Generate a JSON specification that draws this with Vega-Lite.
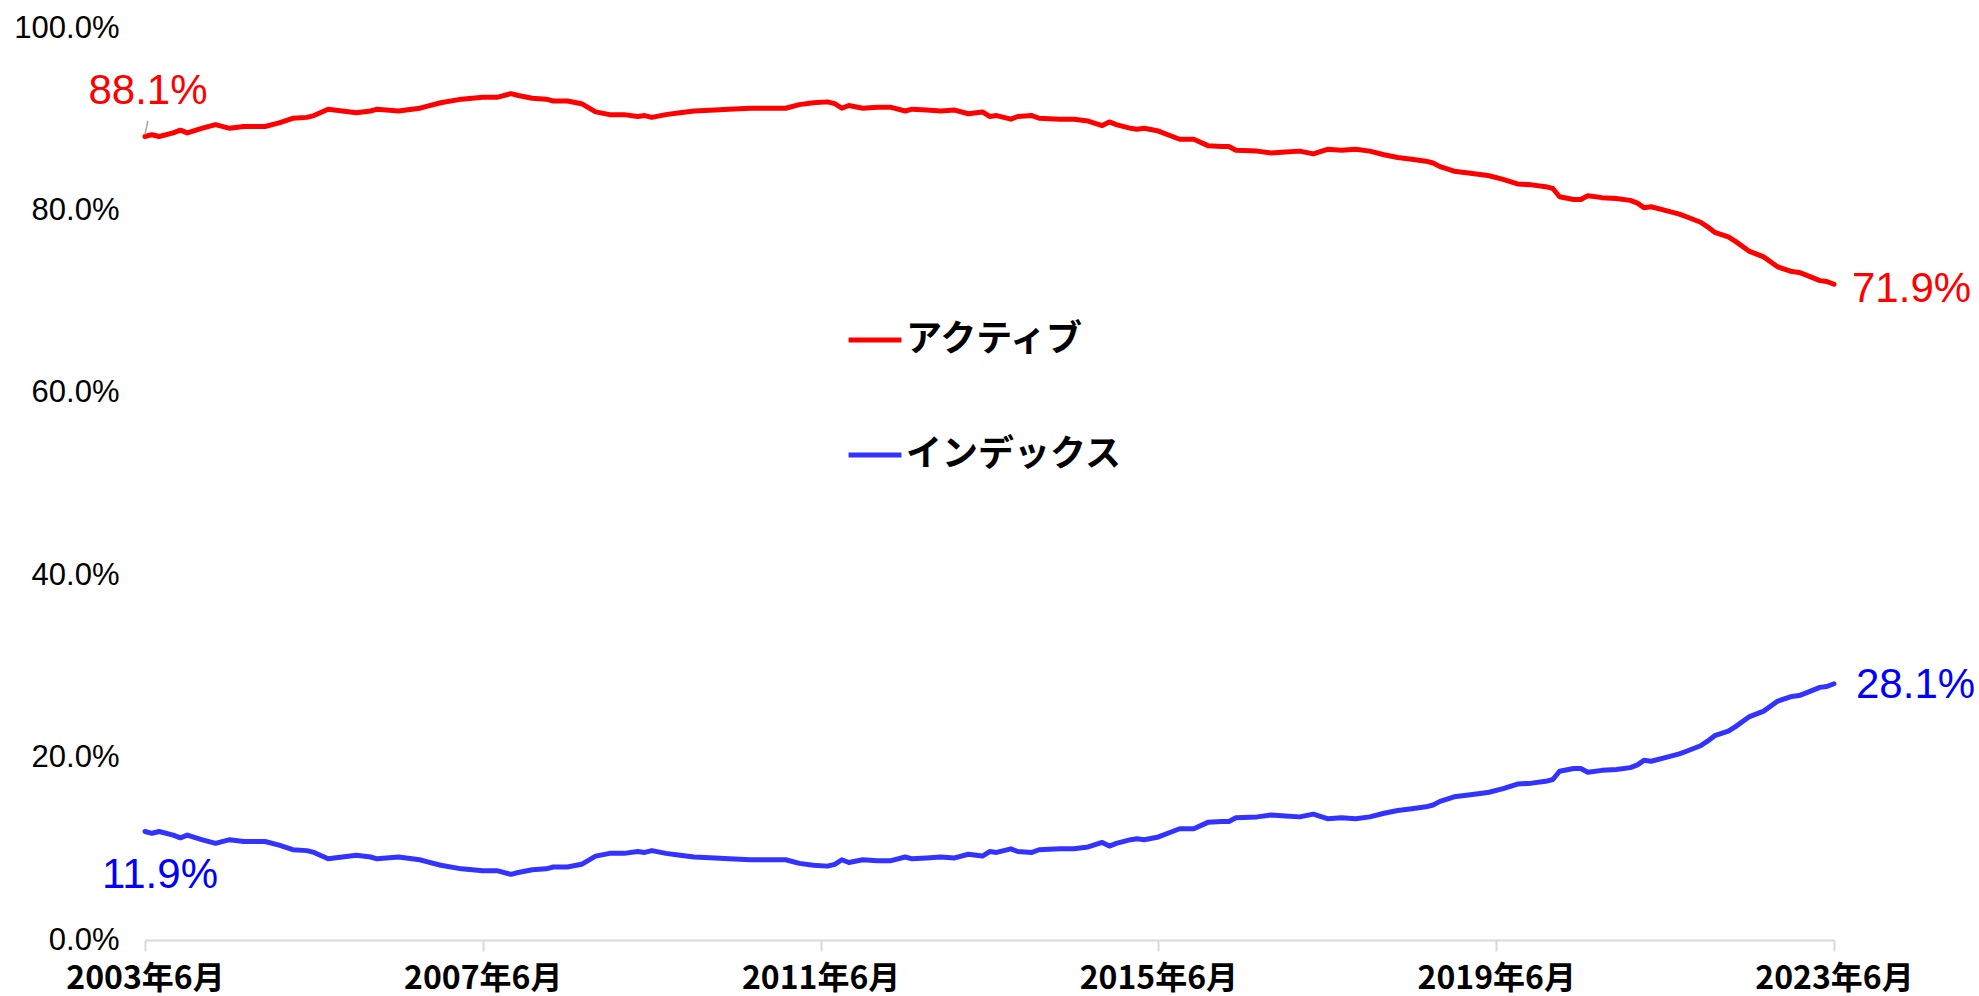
{
  "$schema": "https://vega.github.io/schema/vega-lite/v6.json",
  "autosize": {"type": "none"},
  "width": 1689,
  "height": 912,
  "padding": {"left": 145, "top": 28, "right": 145, "bottom": 56},
  "background": "#ffffff",
  "config": {"view": {"stroke": null}},
  "datasets": {
    "share": [
      {"d":"2003/06/01","アクティブ":88.1,"インデックス":11.9},
      {"d":"2003/07/01","アクティブ":88.3,"インデックス":11.7},
      {"d":"2003/08/01","アクティブ":88.1,"インデックス":11.9},
      {"d":"2003/10/01","アクティブ":88.5,"インデックス":11.5},
      {"d":"2003/11/01","アクティブ":88.8,"インデックス":11.2},
      {"d":"2003/12/01","アクティブ":88.5,"インデックス":11.5},
      {"d":"2004/02/01","アクティブ":89.0,"インデックス":11.0},
      {"d":"2004/04/01","アクティブ":89.4,"インデックス":10.6},
      {"d":"2004/06/01","アクティブ":89.0,"インデックス":11.0},
      {"d":"2004/08/01","アクティブ":89.2,"インデックス":10.8},
      {"d":"2004/11/01","アクティブ":89.2,"インデックス":10.8},
      {"d":"2005/01/01","アクティブ":89.6,"インデックス":10.4},
      {"d":"2005/03/01","アクティブ":90.1,"インデックス":9.9},
      {"d":"2005/05/01","アクティブ":90.2,"インデックス":9.8},
      {"d":"2005/06/01","アクティブ":90.4,"インデックス":9.6},
      {"d":"2005/08/01","アクティブ":91.1,"インデックス":8.9},
      {"d":"2005/10/01","アクティブ":90.9,"インデックス":9.1},
      {"d":"2005/12/01","アクティブ":90.7,"インデックス":9.3},
      {"d":"2006/02/01","アクティブ":90.9,"インデックス":9.1},
      {"d":"2006/03/01","アクティブ":91.1,"インデックス":8.9},
      {"d":"2006/06/01","アクティブ":90.9,"インデックス":9.1},
      {"d":"2006/09/01","アクティブ":91.2,"インデックス":8.8},
      {"d":"2006/10/01","アクティブ":91.4,"インデックス":8.6},
      {"d":"2006/12/01","アクティブ":91.8,"インデックス":8.2},
      {"d":"2007/03/01","アクティブ":92.2,"インデックス":7.8},
      {"d":"2007/06/01","アクティブ":92.4,"インデックス":7.6},
      {"d":"2007/08/01","アクティブ":92.4,"インデックス":7.6},
      {"d":"2007/10/01","アクティブ":92.8,"インデックス":7.2},
      {"d":"2007/11/01","アクティブ":92.6,"インデックス":7.4},
      {"d":"2008/01/01","アクティブ":92.3,"インデックス":7.7},
      {"d":"2008/03/01","アクティブ":92.2,"インデックス":7.8},
      {"d":"2008/04/01","アクティブ":92.0,"インデックス":8.0},
      {"d":"2008/06/01","アクティブ":92.0,"インデックス":8.0},
      {"d":"2008/08/01","アクティブ":91.7,"インデックス":8.3},
      {"d":"2008/10/01","アクティブ":90.8,"インデックス":9.2},
      {"d":"2008/12/01","アクティブ":90.5,"インデックス":9.5},
      {"d":"2009/02/01","アクティブ":90.5,"インデックス":9.5},
      {"d":"2009/04/01","アクティブ":90.3,"インデックス":9.7},
      {"d":"2009/05/01","アクティブ":90.4,"インデックス":9.6},
      {"d":"2009/06/01","アクティブ":90.2,"インデックス":9.8},
      {"d":"2009/08/01","アクティブ":90.5,"インデックス":9.5},
      {"d":"2009/10/01","アクティブ":90.7,"インデックス":9.3},
      {"d":"2009/12/01","アクティブ":90.9,"インデックス":9.1},
      {"d":"2010/03/01","アクティブ":91.0,"インデックス":9.0},
      {"d":"2010/05/01","アクティブ":91.1,"インデックス":8.9},
      {"d":"2010/08/01","アクティブ":91.2,"インデックス":8.8},
      {"d":"2010/11/01","アクティブ":91.2,"インデックス":8.8},
      {"d":"2011/01/01","アクティブ":91.2,"インデックス":8.8},
      {"d":"2011/03/01","アクティブ":91.6,"インデックス":8.4},
      {"d":"2011/05/01","アクティブ":91.8,"インデックス":8.2},
      {"d":"2011/07/01","アクティブ":91.9,"インデックス":8.1},
      {"d":"2011/08/01","アクティブ":91.7,"インデックス":8.3},
      {"d":"2011/09/01","アクティブ":91.2,"インデックス":8.8},
      {"d":"2011/10/01","アクティブ":91.5,"インデックス":8.5},
      {"d":"2011/12/01","アクティブ":91.2,"インデックス":8.8},
      {"d":"2012/02/01","アクティブ":91.3,"インデックス":8.7},
      {"d":"2012/04/01","アクティブ":91.3,"インデックス":8.7},
      {"d":"2012/06/01","アクティブ":90.9,"インデックス":9.1},
      {"d":"2012/07/01","アクティブ":91.1,"インデックス":8.9},
      {"d":"2012/09/01","アクティブ":91.0,"インデックス":9.0},
      {"d":"2012/11/01","アクティブ":90.9,"インデックス":9.1},
      {"d":"2013/01/01","アクティブ":91.0,"インデックス":9.0},
      {"d":"2013/03/01","アクティブ":90.6,"インデックス":9.4},
      {"d":"2013/05/01","アクティブ":90.8,"インデックス":9.2},
      {"d":"2013/06/01","アクティブ":90.3,"インデックス":9.7},
      {"d":"2013/07/01","アクティブ":90.4,"インデックス":9.6},
      {"d":"2013/09/01","アクティブ":90.0,"インデックス":10.0},
      {"d":"2013/10/01","アクティブ":90.3,"インデックス":9.7},
      {"d":"2013/12/01","アクティブ":90.4,"インデックス":9.6},
      {"d":"2014/01/01","アクティブ":90.1,"インデックス":9.9},
      {"d":"2014/04/01","アクティブ":90.0,"インデックス":10.0},
      {"d":"2014/06/01","アクティブ":90.0,"インデックス":10.0},
      {"d":"2014/08/01","アクティブ":89.8,"インデックス":10.2},
      {"d":"2014/10/01","アクティブ":89.3,"インデックス":10.7},
      {"d":"2014/11/01","アクティブ":89.7,"インデックス":10.3},
      {"d":"2014/12/01","アクティブ":89.4,"インデックス":10.6},
      {"d":"2015/02/01","アクティブ":89.0,"インデックス":11.0},
      {"d":"2015/03/01","アクティブ":88.9,"インデックス":11.1},
      {"d":"2015/04/01","アクティブ":89.0,"インデックス":11.0},
      {"d":"2015/06/01","アクティブ":88.7,"インデックス":11.3},
      {"d":"2015/08/01","アクティブ":88.1,"インデックス":11.9},
      {"d":"2015/09/01","アクティブ":87.8,"インデックス":12.2},
      {"d":"2015/11/01","アクティブ":87.8,"インデックス":12.2},
      {"d":"2016/01/01","アクティブ":87.1,"インデックス":12.9},
      {"d":"2016/03/01","アクティブ":87.0,"インデックス":13.0},
      {"d":"2016/04/01","アクティブ":87.0,"インデックス":13.0},
      {"d":"2016/05/01","アクティブ":86.6,"インデックス":13.4},
      {"d":"2016/08/01","アクティブ":86.5,"インデックス":13.5},
      {"d":"2016/10/01","アクティブ":86.3,"インデックス":13.7},
      {"d":"2016/12/01","アクティブ":86.4,"インデックス":13.6},
      {"d":"2017/02/01","アクティブ":86.5,"インデックス":13.5},
      {"d":"2017/04/01","アクティブ":86.2,"インデックス":13.8},
      {"d":"2017/06/01","アクティブ":86.7,"インデックス":13.3},
      {"d":"2017/08/01","アクティブ":86.6,"インデックス":13.4},
      {"d":"2017/10/01","アクティブ":86.7,"インデックス":13.3},
      {"d":"2017/12/01","アクティブ":86.5,"インデックス":13.5},
      {"d":"2018/02/01","アクティブ":86.1,"インデックス":13.9},
      {"d":"2018/04/01","アクティブ":85.8,"インデックス":14.2},
      {"d":"2018/06/01","アクティブ":85.6,"インデックス":14.4},
      {"d":"2018/08/01","アクティブ":85.4,"インデックス":14.6},
      {"d":"2018/09/01","アクティブ":85.2,"インデックス":14.8},
      {"d":"2018/10/01","アクティブ":84.8,"インデックス":15.2},
      {"d":"2018/12/01","アクティブ":84.3,"インデックス":15.7},
      {"d":"2019/02/01","アクティブ":84.1,"インデックス":15.9},
      {"d":"2019/04/01","アクティブ":83.9,"インデックス":16.1},
      {"d":"2019/05/01","アクティブ":83.8,"インデックス":16.2},
      {"d":"2019/07/01","アクティブ":83.4,"インデックス":16.6},
      {"d":"2019/09/01","アクティブ":82.9,"インデックス":17.1},
      {"d":"2019/11/01","アクティブ":82.8,"インデックス":17.2},
      {"d":"2020/01/01","アクティブ":82.6,"インデックス":17.4},
      {"d":"2020/02/01","アクティブ":82.4,"インデックス":17.6},
      {"d":"2020/03/01","アクティブ":81.5,"インデックス":18.5},
      {"d":"2020/05/01","アクティブ":81.2,"インデックス":18.8},
      {"d":"2020/06/01","アクティブ":81.2,"インデックス":18.8},
      {"d":"2020/07/01","アクティブ":81.6,"インデックス":18.4},
      {"d":"2020/09/01","アクティブ":81.4,"インデックス":18.6},
      {"d":"2020/11/01","アクティブ":81.3,"インデックス":18.7},
      {"d":"2021/01/01","アクティブ":81.1,"インデックス":18.9},
      {"d":"2021/02/01","アクティブ":80.8,"インデックス":19.2},
      {"d":"2021/03/01","アクティブ":80.3,"インデックス":19.7},
      {"d":"2021/04/01","アクティブ":80.4,"インデックス":19.6},
      {"d":"2021/06/01","アクティブ":80.0,"インデックス":20.0},
      {"d":"2021/08/01","アクティブ":79.6,"インデックス":20.4},
      {"d":"2021/09/01","アクティブ":79.3,"インデックス":20.7},
      {"d":"2021/11/01","アクティブ":78.7,"インデックス":21.3},
      {"d":"2021/12/01","アクティブ":78.2,"インデックス":21.8},
      {"d":"2022/01/01","アクティブ":77.6,"インデックス":22.4},
      {"d":"2022/03/01","アクティブ":77.1,"インデックス":22.9},
      {"d":"2022/04/01","アクティブ":76.6,"インデックス":23.4},
      {"d":"2022/06/01","アクティブ":75.5,"インデックス":24.5},
      {"d":"2022/08/01","アクティブ":74.9,"インデックス":25.1},
      {"d":"2022/10/01","アクティブ":73.8,"インデックス":26.2},
      {"d":"2022/12/01","アクティブ":73.3,"インデックス":26.7},
      {"d":"2023/01/01","アクティブ":73.2,"インデックス":26.8},
      {"d":"2023/02/01","アクティブ":72.9,"インデックス":27.1},
      {"d":"2023/04/01","アクティブ":72.3,"インデックス":27.7},
      {"d":"2023/05/01","アクティブ":72.2,"インデックス":27.8},
      {"d":"2023/06/01","アクティブ":71.9,"インデックス":28.1}
    ]
  },
  "layer": [
    {
      "data": {"name": "share"},
      "transform": [{"fold": ["アクティブ", "インデックス"], "as": ["series", "value"]}],
      "mark": {"type": "line", "strokeWidth": 5, "strokeJoin": "round", "strokeCap": "round", "clip": false},
      "encoding": {
        "x": {
          "field": "d", "type": "temporal",
          "scale": {"domain": [{"year": 2003, "month": 6, "date": 1}, {"year": 2023, "month": 6, "date": 1}], "nice": false},
          "axis": {
            "title": null,
            "values": [
              {"year": 2003, "month": 6, "date": 1},
              {"year": 2007, "month": 6, "date": 1},
              {"year": 2011, "month": 6, "date": 1},
              {"year": 2015, "month": 6, "date": 1},
              {"year": 2019, "month": 6, "date": 1},
              {"year": 2023, "month": 6, "date": 1}
            ],
            "format": "%Y年%-m月",
            "grid": false,
            "domainColor": "#d9d9d9",
            "domainWidth": 2,
            "tickColor": "#d9d9d9",
            "tickWidth": 2,
            "tickSize": 11,
            "labelPadding": 12,
            "labelFont": "Noto Sans CJK JP",
            "labelFontWeight": "bold",
            "labelFontSize": 32,
            "labelColor": "#000000",
            "labelFlush": false,
            "labelOverlap": false
          }
        },
        "y": {
          "field": "value", "type": "quantitative",
          "scale": {"domain": [0, 100], "nice": false, "zero": true},
          "axis": {
            "title": null,
            "values": [0, 20, 40, 60, 80, 100],
            "labelExpr": "format(datum.value, '.1f') + '%'",
            "grid": false,
            "domain": false,
            "ticks": false,
            "labelPadding": 26,
            "labelFont": "Liberation Sans",
            "labelFontSize": 31,
            "labelColor": "#000000"
          }
        },
        "color": {
          "field": "series", "type": "nominal",
          "scale": {"domain": ["アクティブ", "インデックス"], "range": ["#ff0000", "#3333ff"]},
          "legend": {
            "title": null,
            "orient": "none",
            "legendX": 701,
            "legendY": 283,
            "direction": "vertical",
            "symbolType": "stroke",
            "symbolSize": 2800,
            "symbolStrokeWidth": 5,
            "labelFont": "Noto Sans CJK JP",
            "labelFontWeight": "bold",
            "labelFontSize": 36,
            "labelColor": "#000000",
            "labelOffset": 2,
            "rowPadding": 68,
            "labelLimit": 400
          }
        }
      }
    },
    {
      "data": {"values": [{"d": "2003/06/01", "d2": "2003/06/13", "v": 88.3, "v2": 89.8}]},
      "mark": {"type": "rule", "color": "#a6a6a6", "strokeWidth": 1.5},
      "encoding": {
        "x": {"field": "d", "type": "temporal"},
        "x2": {"field": "d2"},
        "y": {"field": "v", "type": "quantitative"},
        "y2": {"field": "v2"}
      }
    },
    {
      "data": {"values": [{"d": "2003/06/01", "v": 88.1, "t": "88.1%"}]},
      "mark": {"type": "text", "color": "#ff0000", "font": "Liberation Sans", "fontSize": 42, "align": "center", "baseline": "middle", "dx": 3, "dy": -46},
      "encoding": {"x": {"field": "d", "type": "temporal"}, "y": {"field": "v", "type": "quantitative"}, "text": {"field": "t"}}
    },
    {
      "data": {"values": [{"d": "2003/06/01", "v": 11.9, "t": "11.9%"}]},
      "mark": {"type": "text", "color": "#0000ff", "font": "Liberation Sans", "fontSize": 42, "align": "center", "baseline": "middle", "dx": 15, "dy": 44},
      "encoding": {"x": {"field": "d", "type": "temporal"}, "y": {"field": "v", "type": "quantitative"}, "text": {"field": "t"}}
    },
    {
      "data": {"values": [{"d": "2023/06/01", "v": 71.9, "t": "71.9%"}]},
      "mark": {"type": "text", "color": "#ff0000", "font": "Liberation Sans", "fontSize": 42, "align": "left", "baseline": "middle", "dx": 18, "dy": 5},
      "encoding": {"x": {"field": "d", "type": "temporal"}, "y": {"field": "v", "type": "quantitative"}, "text": {"field": "t"}}
    },
    {
      "data": {"values": [{"d": "2023/06/01", "v": 28.1, "t": "28.1%"}]},
      "mark": {"type": "text", "color": "#0000ff", "font": "Liberation Sans", "fontSize": 42, "align": "left", "baseline": "middle", "dx": 22, "dy": 1},
      "encoding": {"x": {"field": "d", "type": "temporal"}, "y": {"field": "v", "type": "quantitative"}, "text": {"field": "t"}}
    }
  ]
}
